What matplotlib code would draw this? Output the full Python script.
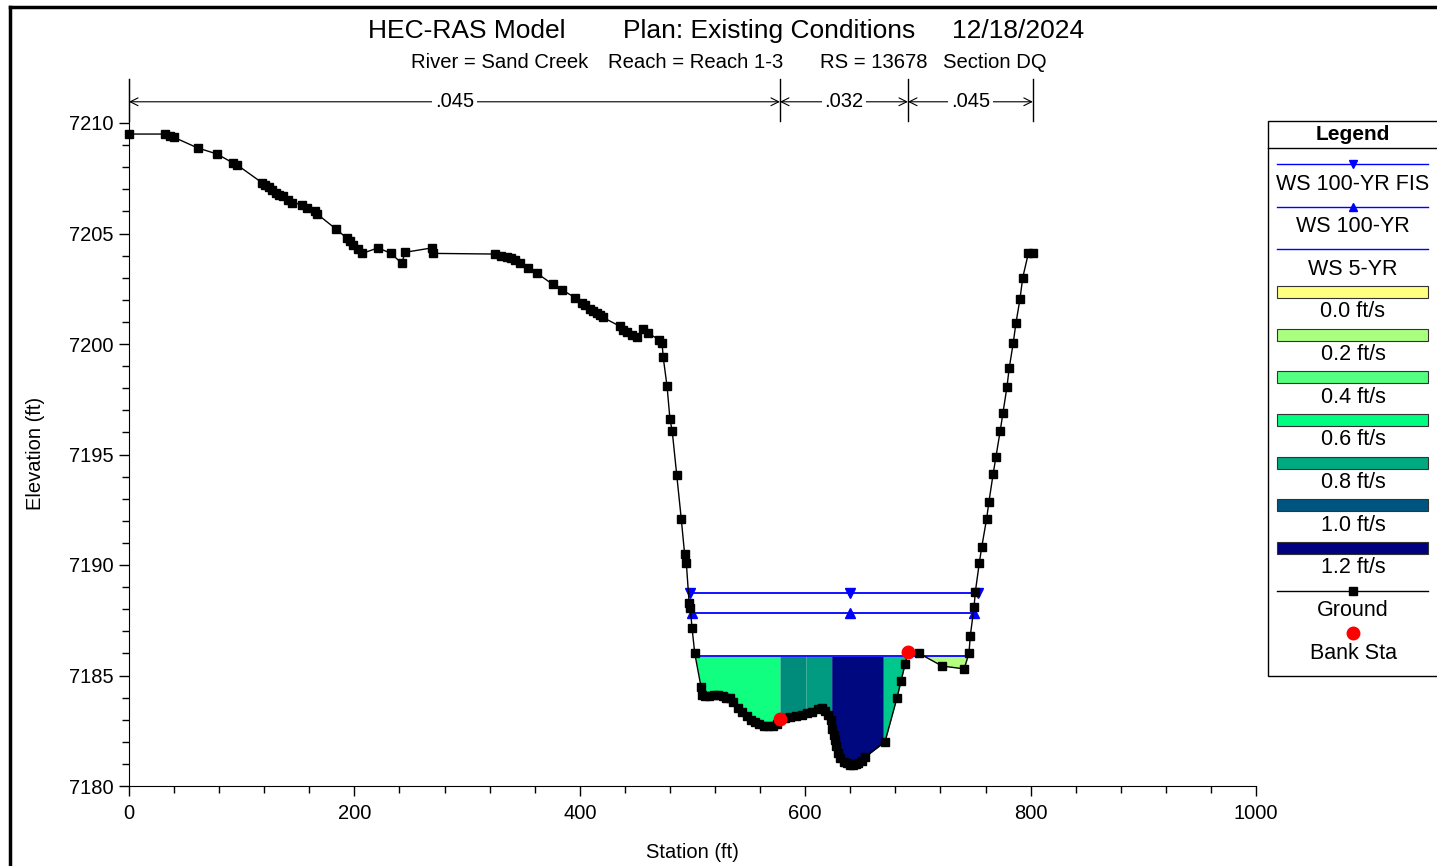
import matplotlib
matplotlib.use("Agg")
import matplotlib.pyplot as plt
import numpy as np
from matplotlib.ticker import MultipleLocator, FixedLocator
from matplotlib.patches import Rectangle

plt.rcParams['font.family'] = ['Liberation Sans', 'DejaVu Sans']

# ground profile (station ft, elevation ft)
ground_sta = [0, 32, 36, 40, 61, 78, 92, 96, 118, 121, 124, 127, 130, 133, 137, 141, 145,
              153.5, 158, 165, 166.5, 183.7, 193, 196, 199, 203, 207, 221, 232.5, 242, 245,
              269, 270, 325, 330, 335, 339, 342.5, 347, 354, 362, 376, 384, 396, 402, 405,
              409, 412, 415, 418, 420.6, 435.7, 438.5, 441.9, 446, 450.8, 456, 460.5, 470, 473,
              474, 477.4, 480, 482, 486, 490, 493, 494.5, 497, 498, 499.6, 502,
              507.5, 508.5, 511, 515, 519, 523, 527, 530, 533, 536, 540, 544, 548, 552, 555.5,
              559, 563, 567, 571, 575, 577.6, 582, 586.5, 592, 597, 601.6, 606, 611, 614.5,
              617.6, 620.5, 622.5, 624, 625.2, 626.4, 627.5, 629, 631, 634, 637, 640, 642.4,
              645, 647, 650, 653, 670.8, 681.5, 685, 688.6, 691.2, 701, 721.4, 741, 745.3,
              746.5, 749.8, 751, 754.5, 756.6, 761, 763, 766.7, 769.3, 773, 775.5, 779,
              781, 784.6, 787, 790.6, 793, 798, 802]
ground_elev = [7209.5, 7209.5, 7209.4, 7209.35, 7208.87, 7208.6, 7208.2, 7208.1, 7207.3, 7207.2,
               7207.1, 7206.95, 7206.85, 7206.75, 7206.7, 7206.5, 7206.4,
               7206.3, 7206.15, 7206.0, 7205.9, 7205.2, 7204.8, 7204.65, 7204.5, 7204.3, 7204.1,
               7204.35, 7204.1, 7203.65, 7204.15,
               7204.35, 7204.1, 7204.07, 7204.0, 7203.95, 7203.88, 7203.8, 7203.67, 7203.45,
               7203.2, 7202.7, 7202.45, 7202.1, 7201.85, 7201.75,
               7201.6, 7201.5, 7201.4, 7201.3, 7201.2, 7200.8, 7200.65, 7200.55, 7200.4,
               7200.3, 7200.7, 7200.5, 7200.2, 7200.05,
               7199.4, 7198.1, 7196.6, 7196.06, 7194.07, 7192.1, 7190.5, 7190.1, 7188.3, 7188.05,
               7187.15, 7186.0,
               7184.5, 7184.1, 7184.05, 7184.05, 7184.1, 7184.1, 7184.05, 7184.0, 7184.0, 7183.8,
               7183.55, 7183.35, 7183.15, 7183.0, 7182.9,
               7182.8, 7182.72, 7182.7, 7182.72, 7182.8, 7183.03, 7183.08, 7183.1, 7183.15,
               7183.22, 7183.3, 7183.35, 7183.5, 7183.55,
               7183.4, 7183.2, 7183.0, 7182.6, 7182.3, 7182.1, 7181.8, 7181.5, 7181.25, 7181.1,
               7181.04, 7180.97, 7180.95,
               7181.0, 7181.04, 7181.15, 7181.3, 7182.0, 7184.0, 7184.75, 7185.5, 7186.06,
               7186.0, 7185.43, 7185.3, 7186.0,
               7186.8, 7188.1, 7188.8, 7190.1, 7190.8, 7192.1, 7192.85, 7194.1, 7194.9, 7196.06,
               7196.9, 7198.05,
               7198.9, 7200.05, 7200.95, 7202.04, 7203.0, 7204.1, 7204.1]

bank_sta = [577.6, 691.2]
bank_elev = [7183.03, 7186.06]

# water surfaces
ws_fis, ws_fis_ext = 7188.73, [497.5, 640, 753]
ws_100, ws_100_ext = 7187.83, [499.5, 640, 749.8]
ws_5, ws_5_ext = 7185.86, [502, 745]

# velocity distribution slices for WS 5-YR (left, right, colour)
slice_left = [502, 577.6, 600.7, 623.5, 669.3, 700]
slice_right = [577.6, 600.7, 623.5, 669.3, 691.2, 745]
slice_colors = ['#10FF80', '#008C7A', '#009B80', '#000880', '#00C88C', '#B4FF80']

# manning's n
n_sta = [0, 577.6, 691.2, 802]
n_vals = ['.045', '.032', '.045']

legend_labels = ['WS 100-YR FIS', 'WS 100-YR', 'WS 5-YR', '0.0 ft/s', '0.2 ft/s', '0.4 ft/s',
                 '0.6 ft/s', '0.8 ft/s', '1.0 ft/s', '1.2 ft/s', 'Ground', 'Bank Sta']
legend_vel_colors = ['#FFFF80', '#AAFF80', '#55FF80', '#00FF80', '#00AA80', '#005580', '#000080']

W, H = 1437, 866
fig = plt.figure(figsize=(W / 100, H / 100), dpi=100)
ax = fig.add_axes([129 / W, 80 / H, 1127 / W, (786 - 78.8) / H])

# velocity fills
gs = np.array(ground_sta, dtype=float)
ge = np.array(ground_elev, dtype=float)
for a, b, c in zip(slice_left, slice_right, slice_colors):
    xs = np.array([a] + [s for s in ground_sta if a < s < b] + [b], dtype=float)
    ys = np.interp(xs, gs, ge)
    ax.fill_between(xs, ys, ws_5, where=ys <= ws_5, interpolate=True, color=c, lw=0, zorder=1)

# water surfaces
ax.plot([ws_fis_ext[0], ws_fis_ext[-1]], [ws_fis, ws_fis], color='#0000FF', lw=1.3, zorder=3)
ax.plot(ws_fis_ext, [ws_fis] * 3, ls='none', marker='v', color='#0000FF', ms=7, zorder=3)
ax.plot([ws_100_ext[0], ws_100_ext[-1]], [ws_100, ws_100], color='#0000FF', lw=1.3, zorder=3)
ax.plot(ws_100_ext, [ws_100] * 3, ls='none', marker='^', color='#0000FF', ms=7, zorder=3)
ax.plot(ws_5_ext, [ws_5, ws_5], color='#0000FF', lw=1.3, zorder=2)

# ground
ax.plot(ground_sta, ground_elev, color='black', lw=1, marker='s', ms=6, zorder=4, clip_on=False)
ax.plot(bank_sta, bank_elev, ls='none', marker='o', color='#FF0000', ms=9, zorder=5)

# manning's n bar above the plot
ny = 7210.96
for s in n_sta:
    ax.plot([s, s], [7210.1, 7212.0], color='black', lw=1, clip_on=False)
for i, v in enumerate(n_vals):
    a, b = n_sta[i], n_sta[i + 1]
    ax.annotate('', xy=(a, ny), xytext=(b, ny),
                arrowprops=dict(arrowstyle='<->', lw=0.8, color='black',
                                shrinkA=0, shrinkB=0, mutation_scale=14),
                annotation_clip=False)
    ax.text((a + b) / 2, ny, v, ha='center', va='center', fontsize=14.5,
            bbox=dict(facecolor='white', edgecolor='none', pad=2), clip_on=False)

ax.set_xlim(0, 1000)
ax.set_ylim(7180, 7212)
ax.set_xticks([0, 200, 400, 600, 800, 1000])
ax.set_yticks([7180, 7185, 7190, 7195, 7200, 7205, 7210])
ax.xaxis.set_minor_locator(MultipleLocator(40))
ax.yaxis.set_minor_locator(FixedLocator(list(range(7180, 7211))))
ax.tick_params(axis='both', which='major', length=7, width=1, labelsize=14.5)
ax.tick_params(axis='x', which='major', pad=6)
ax.tick_params(axis='y', which='major', pad=4)
ax.tick_params(axis='both', which='minor', length=5, width=1)
for sp in ['top', 'right']:
    ax.spines[sp].set_visible(False)
ax.set_xlabel('Station (ft)', fontsize=14.5)
ax.set_ylabel('Elevation (ft)', fontsize=14.5)
ax.xaxis.set_label_coords(0.5, -0.08)
ax.yaxis.set_label_coords(-0.0745, 0.47)

# overlay for titles, frame, legend (pixel coordinates)
ov = fig.add_axes([0, 0, 1, 1], zorder=10)
ov.set_xlim(0, W)
ov.set_ylim(H, 0)
ov.axis('off')
ov.patch.set_alpha(0)

ov.plot([10, 10], [7, H + 5], color='black', lw=2.5, clip_on=False)
ov.plot([10, W + 5], [7, 7], color='black', lw=2.5, clip_on=False)

ov.text(368, 31, 'HEC-RAS Model', fontsize=19, va='center', ha='left')
ov.text(623, 31, 'Plan: Existing Conditions', fontsize=19, va='center', ha='left')
ov.text(952, 31, '12/18/2024', fontsize=19, va='center', ha='left')
ov.text(411, 62, 'River = Sand Creek', fontsize=14.6, va='center', ha='left')
ov.text(608, 62, 'Reach = Reach 1-3', fontsize=14.6, va='center', ha='left')
ov.text(820, 62, 'RS = 13678', fontsize=14.6, va='center', ha='left')
ov.text(943, 62, 'Section DQ', fontsize=14.6, va='center', ha='left')

# legend
lx0, lx1 = 1268, 1437
ov.add_patch(Rectangle((lx0, 121), 170, 555, fill=False, edgecolor='black', lw=1))
ov.plot([lx0, lx1], [148, 148], color='black', lw=1)
ov.text(1353, 134, 'Legend', fontsize=15, fontweight='bold', ha='center', va='center')
cx = 1353
sx0, sx1 = 1277, 1428
for i, lab in enumerate(legend_labels):
    ys = 164 + i * 42.65
    if i < 3:
        ov.plot([sx0, sx1], [ys, ys], color='#0000FF', lw=1)
        if i == 0:
            ov.plot([cx], [ys], marker='v', color='#0000FF', ms=6)
        elif i == 1:
            ov.plot([cx], [ys], marker='^', color='#0000FF', ms=6)
    elif i < 10:
        ov.add_patch(Rectangle((sx0, ys - 6), sx1 - sx0, 12,
                               facecolor=legend_vel_colors[i - 3], edgecolor='#333333', lw=0.8))
    elif i == 10:
        ov.plot([sx0, sx1], [ys, ys], color='black', lw=1)
        ov.plot([cx], [ys], marker='s', color='black', ms=6)
    else:
        ov.plot([cx], [ys], marker='o', color='#FF0000', ms=9)
    ov.text(cx, ys + 20, lab, fontsize=15.5, ha='center', va='center')

fig.savefig('out.png', dpi=100)
